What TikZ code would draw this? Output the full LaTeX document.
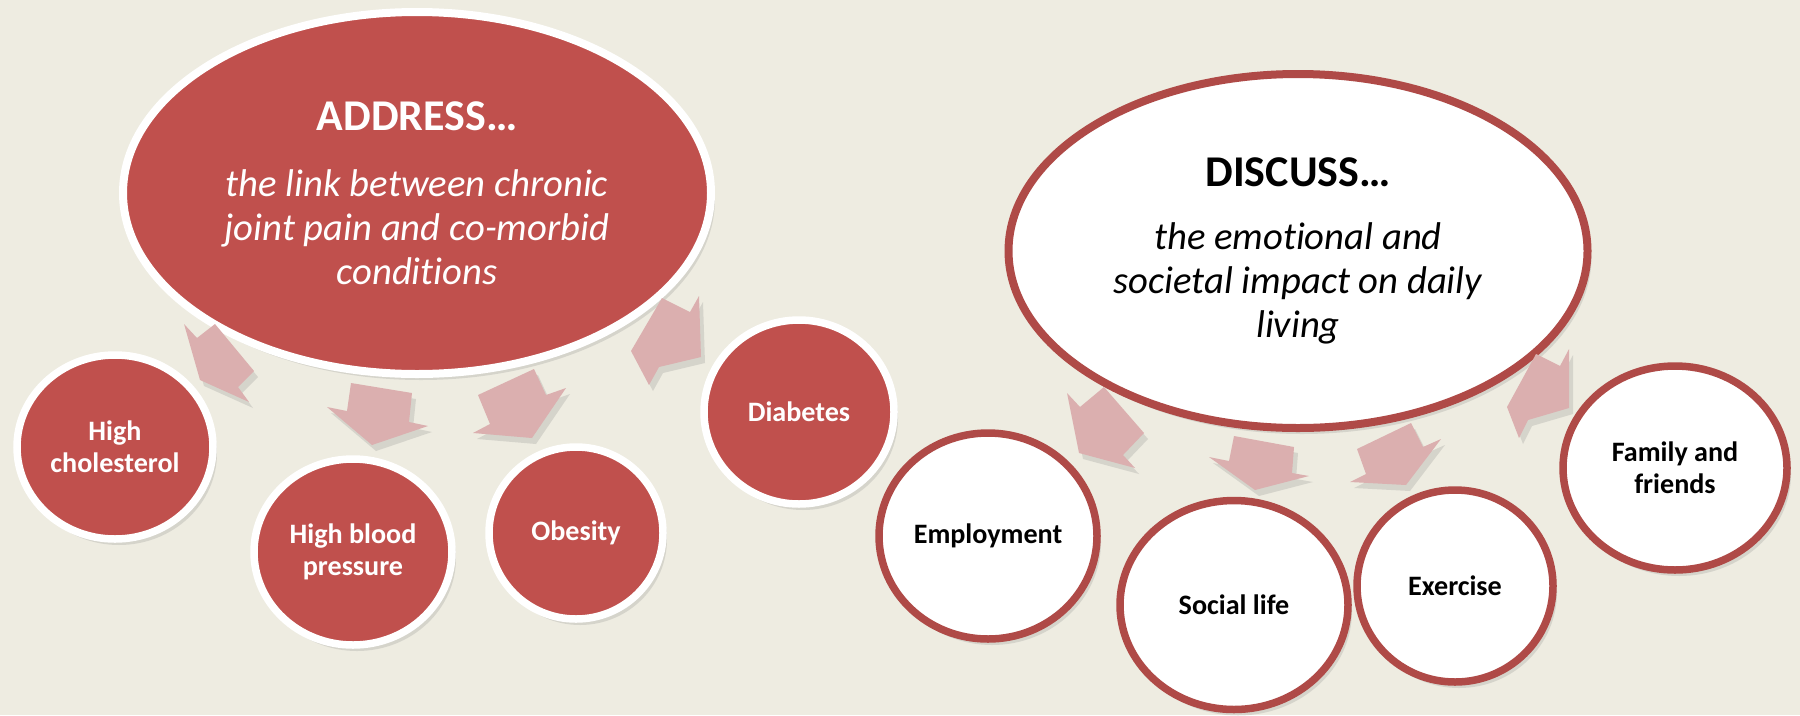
\documentclass[tikz,border=0pt]{standalone}
\usepackage{fontspec}
\setmainfont{Carlito}[Ligatures=NoCommon]
\usetikzlibrary{shapes,shadows}

\definecolor{paper}{HTML}{EEECE1}
\definecolor{brick}{HTML}{C0504D}
\definecolor{rim}{HTML}{AF4A47}
\definecolor{blush}{HTML}{DBAFAF}

\begin{document}
\begin{tikzpicture}[x=0.1mm,y=-0.1mm]
	  \tikzstyle{soft shadow}=[drop shadow={shadow xshift=0.4mm,shadow yshift=-0.6mm,
				  fill=black!50,opacity=0.22}]
	  \tikzstyle{hub}=[ellipse,line width=0.8mm,align=center,inner sep=0pt,soft shadow,
				  font=\fontsize{11}{12.5}\selectfont\itshape]
	  \tikzstyle{red hub}=[hub,draw=white,fill=brick,text=white]
	  \tikzstyle{white hub}=[hub,draw=rim,fill=white,text=black]
	  \tikzstyle{item}=[ellipse,line width=0.75mm,align=center,inner sep=0pt,soft shadow,
				  font=\fontsize{8}{9.2}\selectfont\bfseries]
	  \tikzstyle{red item}=[item,draw=white,fill=brick,text=white]
	  \tikzstyle{white item}=[item,draw=rim,fill=white,text=black]
	  \tikzstyle{flow}=[fill=blush,soft shadow]

		% page
		\useasboundingbox (0,0) rectangle (1800,715);
		\fill[paper] (0,0) rectangle (1800,715);

		% left group
		\node[red hub,minimum width=58.8mm,minimum height=36.2mm] (address) at (417,193)
			{{\upshape\bfseries\fontsize{12.5}{15}\selectfont ADDRESS…}\\[6.3pt]
			 the link between chronic\\ joint pain and co-morbid\\ conditions};

		\node[red item,minimum width=19.6mm,minimum height=18.4mm] (chol) at (115,447) {High\\cholesterol};
		\node[red item,minimum width=19.8mm,minimum height=18.6mm] (hbp) at (353,552) {High blood\\pressure};
		\node[red item,minimum width=17.4mm,minimum height=17.2mm] (obes) at (576,533) {Obesity};
		\node[red item,minimum width=19.0mm,minimum height=18.4mm] (diab) at (799,412) {Diabetes};

		% right group
		\node[white hub,minimum width=57.9mm,minimum height=35.4mm] (discuss) at (1298,251)
			{{\upshape\bfseries\fontsize{12.5}{15}\selectfont DISCUSS…}\\[5.6pt]
			 the emotional and\\ societal impact on daily\\ living};

		\node[white item,minimum width=21.8mm,minimum height=20.6mm] (empl) at (988,536) {Employment};
		\node[white item,minimum width=22.8mm,minimum height=20.9mm] (social) at (1234,605) {Social life};
		\node[white item,minimum width=19.6mm,minimum height=19.2mm] (exer) at (1455,586) {Exercise};
		\node[white item,minimum width=22.4mm,minimum height=20.4mm] (family) at (1675,468) {Family and\\friends};

		% block arrows, hub -> items
		\fill[flow] (215,324) -- (254,371) -- (238,387) -- (249,402) -- (200,380) -- (184,324) -- (197,338) -- cycle;
		\fill[flow] (351,383) -- (412,393) -- (409,422) -- (428,426) -- (372,445) -- (327,407) -- (347,411) -- cycle;
		\fill[flow] (478,395) -- (534,369) -- (546,395) -- (566,388) -- (532,438) -- (473,433) -- (490,424) -- cycle;
		\fill[flow] (662,298) -- (690,312) -- (699,296) -- (701,357) -- (659,367) -- (649,385) -- (631,351) -- cycle;

		\fill[flow] (1067,393) -- (1080,407) -- (1104,387) -- (1144,433) -- (1123,455) -- (1135,468) -- (1079,453) -- cycle;
		\fill[flow] (1234,436) -- (1294,447) -- (1292,473) -- (1309,476) -- (1255,490) -- (1209,457) -- (1229,461) -- cycle;
		\fill[flow] (1357,449) -- (1411,423) -- (1423,447) -- (1441,439) -- (1406,485) -- (1350,482) -- (1366,474) -- cycle;
		\fill[flow] (1536,354) -- (1560,366) -- (1569,349) -- (1569,408) -- (1528,420) -- (1519,438) -- (1507,407) -- cycle;

\end{tikzpicture}
\end{document}
